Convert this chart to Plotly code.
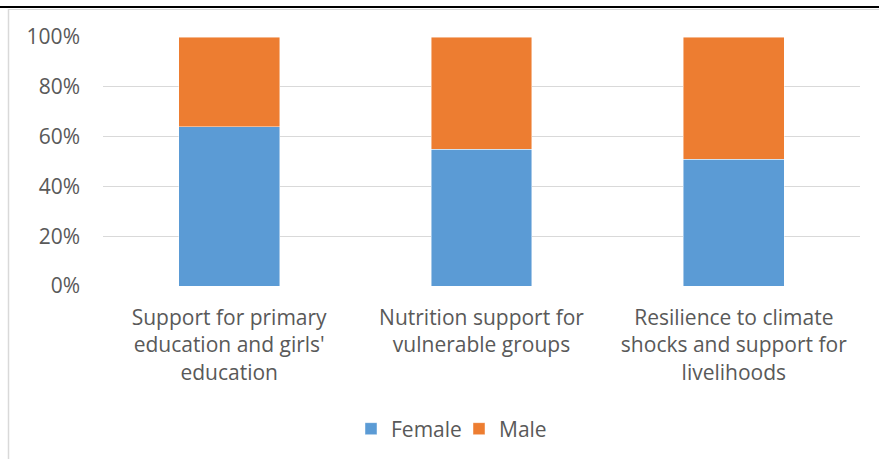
import plotly.graph_objects as go

categories = [
    "Support for primary<br>education and girls'<br>education",
    "Nutrition support for<br>vulnerable groups",
    "Resilience to climate<br>shocks and support for<br>livelihoods",
]
female = [0.64, 0.55, 0.51]
male = [0.36, 0.45, 0.49]

W, H = 879, 459
L, R, T, B = 103, 19, 37, 173
pw, ph = W - L - R, H - T - B

FONT = "Open Sans"
TXT = "#595959"

fig = go.Figure()
fig.add_trace(go.Bar(name="Female", x=categories, y=female, marker=dict(color="#5B9BD5", line=dict(color="rgba(255,255,255,0.6)", width=0.75))))
fig.add_trace(go.Bar(name="Male", x=categories, y=male, marker=dict(color="#ED7D31", line=dict(color="rgba(255,255,255,0.6)", width=0.75))))

def px_x(p):
    return (p - L) / pw

def px_y(p):
    return (H - B - p) / ph

shapes = [
    dict(type="line", xref="paper", yref="paper", x0=px_x(0), x1=px_x(W), y0=px_y(7), y1=px_y(7), line=dict(color="black", width=2)),
    dict(type="line", xref="paper", yref="paper", x0=px_x(8), x1=px_x(W), y0=px_y(9.5), y1=px_y(9.5), line=dict(color="#D9D9D9", width=1)),
    dict(type="line", xref="paper", yref="paper", x0=px_x(8.5), x1=px_x(8.5), y0=px_y(9), y1=px_y(H), line=dict(color="#D9D9D9", width=1.5)),
]

fig.update_layout(
    width=W, height=H,
    margin=dict(l=L, r=R, t=T, b=B, autoexpand=False),
    barmode="stack", bargap=0.6,
    plot_bgcolor="white", paper_bgcolor="white",
    font=dict(family=FONT, size=21, color=TXT),
    showlegend=True,
    legend=dict(orientation="h", x=px_x(459), xanchor="center", y=px_y(429), yanchor="middle",
                font=dict(family=FONT, size=21, color=TXT), traceorder="normal", itemwidth=30,
                entrywidth=63, entrywidthmode="pixels"),
    shapes=shapes,
)
fig.update_yaxes(range=[0, 1], dtick=0.2, tickformat=".0%", showgrid=True, gridcolor="#D9D9D9", gridwidth=1.3,
                 zeroline=False, showline=False, ticks="", ticklabelstandoff=22,
                 tickfont=dict(family=FONT, size=21, color=TXT))
fig.update_xaxes(showgrid=False, showline=False, ticks="", ticklabelstandoff=17,
                 tickfont=dict(family=FONT, size=21, color=TXT))

fig.write_html("out.html")
